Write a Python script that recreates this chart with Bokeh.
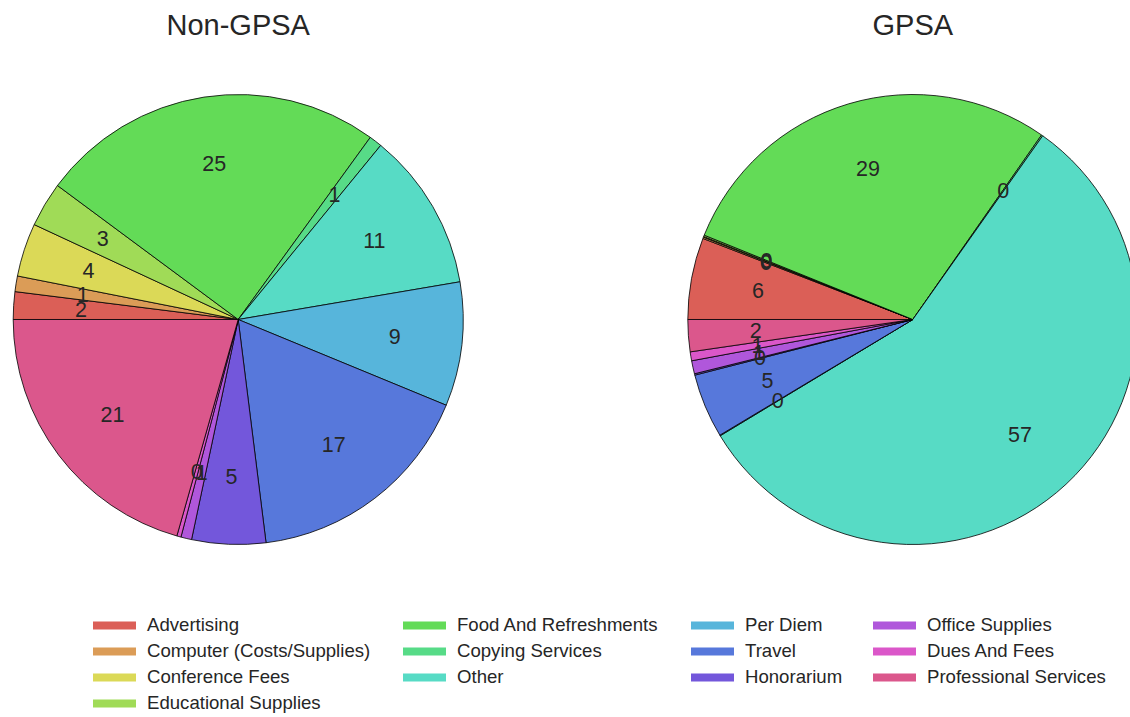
import colorsys
import math
import numpy as np
from bokeh.plotting import figure
from bokeh.models import Range1d, ColumnDataSource, Legend, LegendItem
from bokeh.core.properties import value
from bokeh.embed import file_html
from bokeh.resources import INLINE

# ---------------- data ----------------
categories = [
    "Advertising", "Computer (Costs/Supplies)", "Conference Fees", "Educational Supplies",
    "Food And Refreshments", "Copying Services", "Other", "Per Diem", "Travel",
    "Honorarium", "Office Supplies", "Dues And Fees", "Professional Services",
]
non_gpsa = [1.98, 1.12, 3.83, 3.22, 24.83, 0.93, 11.4, 8.9, 16.8, 5.3, 0.77, 0.3, 20.6]
gpsa = [5.87, 0.1, 0.05, 0.1, 28.6, 0.1, 56.6, 0.05, 4.62, 0.1, 0.94, 0.64, 2.3]
pie_titles = ["Non-GPSA", "GPSA"]
legend_columns = [[0, 1, 2, 3], [4, 5, 6], [7, 8, 9], [10, 11, 12]]

# ---------------- style ----------------
W, H = 1130, 717
FONT = "Liberation Sans"
TEXT_COLOR = "#262626"
R = 225
centers = [(237.7, H - 319.0), (912.3, H - 319.0)]   # frame coords (1 unit = 1 px)
title_y = H - 24.3

n = len(categories)
colors = []
for i in range(n):
    h = (i / n + 0.01) % 1.0
    r, g, b = colorsys.hls_to_rgb(h, 0.6, 0.65)
    colors.append("#%02x%02x%02x" % (int(round(r * 255)), int(round(g * 255)), int(round(b * 255))))

p = figure(width=W, height=H, x_range=Range1d(0, W), y_range=Range1d(0, H),
           x_axis_type=None, y_axis_type=None, toolbar_location=None,
           output_backend="svg", min_border=0, outline_line_color=None,
           background_fill_color="white", border_fill_color="white")
p.xgrid.visible = False
p.ygrid.visible = False

for (cx, cy), vals, title in zip(centers, [non_gpsa, gpsa], pie_titles):
    v = np.array(vals, dtype=float)
    frac = v / v.sum()
    cum = np.concatenate([[0.0], np.cumsum(frac)])
    start = math.pi - 2 * math.pi * cum[:-1]
    end = math.pi - 2 * math.pi * cum[1:]
    mid = (start + end) / 2
    src = ColumnDataSource(dict(
        x=[cx] * n, y=[cy] * n, start=start, end=end, color=colors,
        lx=cx + 0.7 * R * np.cos(mid), ly=cy + 0.7 * R * np.sin(mid),
        label=[str(int(round(100 * f))) for f in frac],
    ))
    p.wedge(x="x", y="y", radius=R, start_angle="start", end_angle="end",
            direction="clock", fill_color="color", line_color="black",
            line_width=0.8, source=src)
    p.text(x="lx", y="ly", text="label", source=src, text_align="center",
           text_baseline="middle", text_font=value(FONT), text_font_size="21.5px",
           text_color=TEXT_COLOR)
    p.text(x=[cx], y=[title_y], text=[title], text_align="center",
           text_baseline="middle", text_font=value(FONT), text_font_size="29px",
           text_color=TEXT_COLOR)

# legend (line swatches); the lines themselves sit outside the visible frame
line_renderers = []
for c in colors:
    line_renderers.append(p.line(x=[-50, -40], y=[-50, -50], line_color=c,
                                 line_width=8, line_cap="round"))

legend_x = [93, 403, 691, 873]
for col, idxs in enumerate(legend_columns):
    items = [LegendItem(label=categories[i], renderers=[line_renderers[i]]) for i in idxs]
    height = 26 * len(idxs)
    vy = H - (612 + height)
    leg = Legend(items=items, location=(legend_x[col], vy), orientation="vertical",
                 glyph_width=43, glyph_height=26, label_height=26, spacing=0,
                 padding=0, margin=0, label_standoff=11,
                 label_text_font=FONT, label_text_font_size="18.6px",
                 label_text_color=TEXT_COLOR, border_line_alpha=0,
                 background_fill_alpha=0)
    p.add_layout(leg)

open("out.html", "w").write(file_html(p, INLINE))
